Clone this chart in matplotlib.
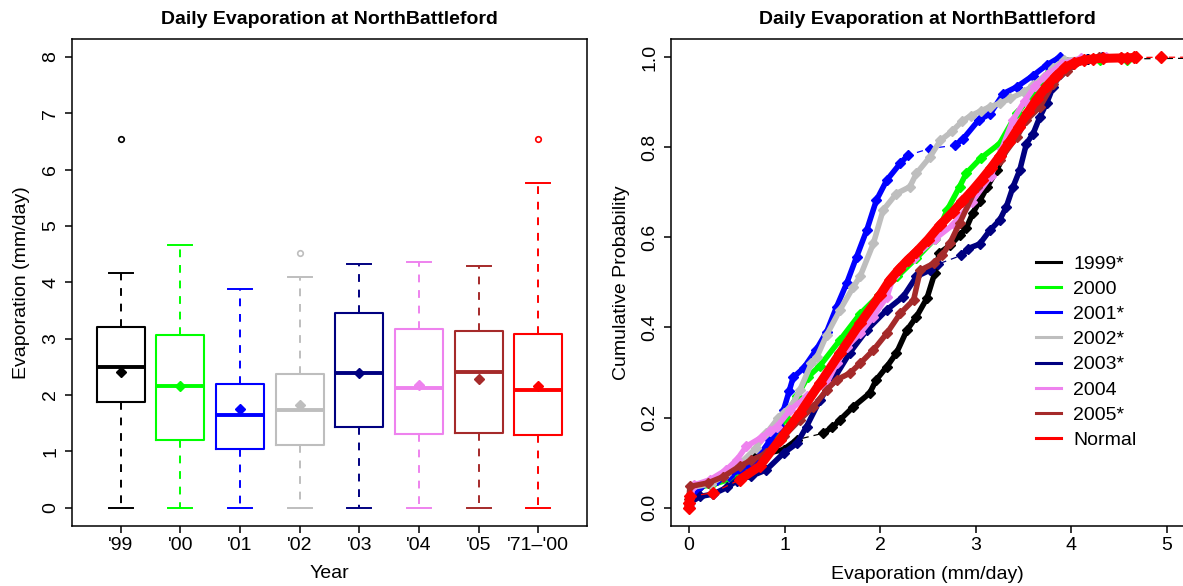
import matplotlib
matplotlib.use("Agg")
import matplotlib.pyplot as plt
from matplotlib.lines import Line2D
import numpy as np

plt.rcParams['font.family'] = ['Liberation Sans', 'DejaVu Sans']

W, H = 1183, 586
TITLE = "Daily Evaporation at NorthBattleford"

# ---- boxplot summary (mm/day) ----
year_labels = ["'99", "'00", "'01", "'02", "'03", "'04", "'05", "'71\u2013'00"]
box_colors = ["#000000", "#00FF00", "#0000FF", "#BEBEBE", "#000080", "#EE82EE", "#A52A2A", "#FF0000"]
whisker_low = [0.0, 0.0, 0.0, 0.0, 0.0, 0.0, 0.0, 0.0]
q1 = [1.88, 1.21, 1.04, 1.12, 1.44, 1.31, 1.32, 1.29]
medians = [2.50, 2.16, 1.65, 1.73, 2.39, 2.12, 2.40, 2.09]
q3 = [3.21, 3.07, 2.19, 2.38, 3.46, 3.17, 3.13, 3.09]
whisker_high = [4.17, 4.67, 3.88, 4.10, 4.32, 4.36, 4.29, 5.77]
means = [2.41, 2.16, 1.76, 1.82, 2.39, 2.17, 2.28, 2.16]
outliers = [[6.54], [], [], [4.52], [], [], [], [6.54]]

# ---- cumulative distributions: evaporation (mm/day) and probability ----
series_names = ["1999*", "2000", "2001*", "2002*", "2003*", "2004", "2005*", "Normal"]

x_1999 = [0.0, 0.10, 0.25, 0.40, 0.55, 0.67, 0.80, 0.99, 1.13, 1.40, 1.50, 1.58, 1.72, 1.89, 1.96,
          2.07, 2.17, 2.28, 2.38, 2.49, 2.57, 2.62, 2.73, 2.83, 2.90, 2.97, 3.04, 3.12, 3.22, 3.40,
          3.60, 3.80, 3.95, 4.17, 6.54]
p_1999 = [0.01, 0.045, 0.06, 0.08, 0.10, 0.114, 0.12, 0.129, 0.151, 0.165, 0.178, 0.195, 0.224, 0.254, 0.284,
          0.313, 0.343, 0.394, 0.424, 0.465, 0.52, 0.565, 0.582, 0.604, 0.62, 0.654, 0.68, 0.712, 0.749, 0.83,
          0.90, 0.96, 0.99, 0.995, 1.0]

x_2000 = [0.0, 0.035, 0.23, 0.45, 0.62, 0.75, 0.89, 1.01, 1.13, 1.24, 1.37, 1.58, 1.79, 1.99, 2.18,
          2.38, 2.57, 2.70, 2.83, 2.90, 3.05, 3.25, 3.43, 3.60, 3.78, 4.00, 4.30, 4.58, 4.67]
p_2000 = [0.01, 0.045, 0.05, 0.065, 0.09, 0.115, 0.148, 0.20, 0.248, 0.289, 0.315, 0.372, 0.43, 0.472, 0.513,
          0.554, 0.596, 0.66, 0.712, 0.742, 0.775, 0.808, 0.875, 0.92, 0.97, 0.985, 0.993, 0.993, 1.0]

x_2001 = [0.0, 0.115, 0.29, 0.42, 0.53, 0.62, 0.70, 0.85, 0.95, 0.99, 1.05, 1.09, 1.20, 1.33, 1.44,
          1.545, 1.65, 1.754, 1.86, 1.96, 2.07, 2.21, 2.29, 2.52, 2.78, 2.87, 3.03, 3.15, 3.29, 3.43,
          3.60, 3.74, 3.88]
p_2001 = [0.005, 0.047, 0.062, 0.07, 0.084, 0.095, 0.105, 0.15, 0.18, 0.217, 0.26, 0.289, 0.31, 0.35, 0.39,
          0.446, 0.498, 0.557, 0.616, 0.682, 0.727, 0.764, 0.782, 0.797, 0.804, 0.819, 0.86, 0.874, 0.919, 0.934,
          0.959, 0.982, 1.0]

x_2002 = [0.0, 0.035, 0.23, 0.39, 0.54, 0.70, 0.81, 0.93, 0.99, 1.09, 1.16, 1.28, 1.34, 1.44, 1.58,
          1.72, 1.79, 1.93, 2.03, 2.17, 2.31, 2.38, 2.52, 2.63, 2.75, 2.86, 2.95, 3.05, 3.15, 3.25,
          3.36, 3.50, 3.60, 3.71, 3.81, 3.92, 4.10, 4.52]
p_2002 = [0.005, 0.045, 0.053, 0.074, 0.099, 0.132, 0.165, 0.198, 0.21, 0.231, 0.261, 0.32, 0.335, 0.383, 0.439,
          0.49, 0.513, 0.587, 0.66, 0.697, 0.712, 0.742, 0.778, 0.815, 0.835, 0.858, 0.87, 0.88, 0.89, 0.897,
          0.908, 0.922, 0.937, 0.956, 0.975, 0.993, 0.995, 1.0]

x_2003 = [0.0, 0.12, 0.25, 0.40, 0.50, 0.65, 0.81, 0.99, 1.13, 1.23, 1.37, 1.51, 1.68, 1.86, 2.07,
          2.24, 2.38, 2.52, 2.60, 2.85, 2.92, 3.04, 3.15, 3.25, 3.32, 3.39, 3.46, 3.53, 3.60, 3.67,
          3.74, 3.81, 3.88, 4.02, 4.16, 4.32]
p_2003 = [0.01, 0.025, 0.03, 0.045, 0.06, 0.07, 0.084, 0.121, 0.143, 0.18, 0.239, 0.284, 0.343, 0.394, 0.439,
          0.468, 0.513, 0.527, 0.54, 0.56, 0.575, 0.585, 0.616, 0.638, 0.668, 0.712, 0.749, 0.808, 0.83, 0.867,
          0.897, 0.934, 0.963, 0.985, 0.995, 1.0]

x_2004 = [0.0, 0.05, 0.22, 0.39, 0.50, 0.60, 0.75, 0.85, 0.92, 1.06, 1.23, 1.44, 1.545, 1.65, 1.79,
          1.93, 2.07, 2.14, 2.35, 2.57, 2.77, 2.96, 3.16, 3.27, 3.39, 3.51, 3.62, 3.74, 3.90, 4.10, 4.36]
p_2004 = [0.01, 0.05, 0.062, 0.084, 0.106, 0.136, 0.155, 0.17, 0.18, 0.217, 0.247, 0.276, 0.32, 0.357, 0.387,
          0.424, 0.468, 0.513, 0.555, 0.596, 0.629, 0.679, 0.737, 0.795, 0.861, 0.902, 0.935, 0.96, 0.985, 0.997, 1.0]

x_2005 = [0.0, 0.01, 0.20, 0.36, 0.53, 0.65, 0.81, 0.99, 1.16, 1.30, 1.44, 1.545, 1.68, 1.79, 1.93,
          2.07, 2.21, 2.35, 2.42, 2.56, 2.65, 2.73, 2.83, 3.01, 3.13, 3.25, 3.43, 3.53, 3.67, 3.81,
          3.95, 4.13, 4.29]
p_2005 = [0.02, 0.047, 0.055, 0.069, 0.092, 0.105, 0.121, 0.158, 0.195, 0.224, 0.261, 0.284, 0.298, 0.32, 0.35,
          0.387, 0.431, 0.461, 0.527, 0.542, 0.56, 0.587, 0.631, 0.712, 0.745, 0.771, 0.823, 0.86, 0.889, 0.941,
          0.97, 0.993, 1.0]

x_normal = [0.0, 0.0, 0.01, 0.25, 0.53, 0.74, 0.95, 1.16, 1.37, 1.58, 1.79, 2.00, 2.10, 2.20, 2.29,
            2.38, 2.50, 2.63, 2.76, 2.86, 2.96, 3.06, 3.155, 3.25, 3.35, 3.45, 3.545, 3.64, 3.74, 3.84,
            3.935, 4.03, 4.13, 4.23, 4.33, 4.52, 4.58, 4.65, 4.68, 4.94, 6.54]
p_normal = [0.0, 0.01, 0.025, 0.033, 0.062, 0.092, 0.151, 0.21, 0.276, 0.343, 0.409, 0.472, 0.505, 0.53, 0.55,
            0.568, 0.595, 0.628, 0.656, 0.68, 0.703, 0.728, 0.753, 0.78, 0.811, 0.845, 0.877, 0.907, 0.935, 0.958,
            0.977, 0.987, 0.993, 0.996, 0.997, 0.998, 0.998, 0.999, 0.999, 0.9995, 1.0]

ecdf_x = [x_1999, x_2000, x_2001, x_2002, x_2003, x_2004, x_2005, x_normal]
ecdf_p = [p_1999, p_2000, p_2001, p_2002, p_2003, p_2004, p_2005, p_normal]

FS = 14
TICK_LEN = 4.8
TICK_W = 1.1
SPINE_W = 1.1

fig = plt.figure(figsize=(W / 100, H / 100), dpi=100)
ax1 = fig.add_axes([71.7 / W, (H - 525.7) / H, (587.3 - 71.7) / W, (525.7 - 39) / H])
ax2 = fig.add_axes([670.7 / W, (H - 525.7) / H, (1184 - 670.7) / W, (525.7 - 39) / H])


def style_axes(ax):
    for s in ax.spines.values():
        s.set_linewidth(SPINE_W)
        s.set_color("black")
    ax.tick_params(axis="both", length=TICK_LEN, width=TICK_W, labelsize=FS, color="black")
    ax.tick_params(axis="x", pad=3.2)
    ax.tick_params(axis="y", pad=4.2, labelrotation=90)
    for lbl in ax.get_yticklabels():
        lbl.set_va("center")


# ---------- left: boxplots ----------
positions = np.arange(1, len(year_labels) + 1)
for i in range(len(year_labels)):
    c = box_colors[i]
    st = dict(whislo=whisker_low[i], q1=q1[i], med=medians[i], q3=q3[i],
              whishi=whisker_high[i], fliers=outliers[i], label=year_labels[i])
    ax1.bxp([st], positions=[positions[i]], widths=0.8, showfliers=True,
            boxprops=dict(color=c, linewidth=1.5),
            medianprops=dict(color=c, linewidth=2.8),
            whiskerprops=dict(color=c, linewidth=1.4, linestyle=(0, (4, 4))),
            capprops=dict(color=c, linewidth=1.4),
            capwidths=0.4,
            flierprops=dict(marker="o", markerfacecolor="none", markeredgecolor=c,
                            markersize=4, markeredgewidth=1.2))
    ax1.plot([positions[i]], [means[i]], marker="D", color=c, markersize=5, linestyle="none")

ax1.set_xlim(0.18, 8.82)
ax1.set_ylim(-0.32, 8.32)
ax1.set_xticks(positions)
ax1.set_xticklabels(year_labels)
ax1.set_yticks(range(0, 9))
style_axes(ax1)
ax1.set_xlabel("Year", fontsize=FS, labelpad=8.0)
ax1.set_ylabel("Evaporation (mm/day)", fontsize=FS)
ax1.yaxis.set_label_coords(-0.08, 0.5)
ax1.text(0.5, 1.03, TITLE, transform=ax1.transAxes, ha="center", va="baseline",
         fontsize=FS, fontweight="bold")

# ---------- right: cumulative distributions ----------
line_w = [4.0] * 7 + [6.5]
gap = 0.22
for i in range(len(series_names)):
    xs = np.asarray(ecdf_x[i])
    ps = np.asarray(ecdf_p[i])
    c = box_colors[i]
    z = 2 + i * 0.1
    ax2.plot(xs, ps, color=c, linewidth=0.9, linestyle=(0, (5, 4)), zorder=z)
    breaks = np.where(np.diff(xs) > gap)[0] + 1
    for seg_x, seg_p in zip(np.split(xs, breaks), np.split(ps, breaks)):
        if len(seg_x) > 1:
            ax2.plot(seg_x, seg_p, color=c, linewidth=line_w[i], solid_capstyle="round",
                     solid_joinstyle="round", zorder=z)
    ax2.plot(xs, ps, color=c, marker="D", markersize=5 if i < 7 else 6.5,
             linestyle="none", zorder=z)

ax2.set_xlim(-0.191, 5.178)
ax2.set_ylim(-0.04, 1.04)
ax2.set_xticks(range(0, 6))
ax2.set_yticks([0.0, 0.2, 0.4, 0.6, 0.8, 1.0])
ax2.set_yticklabels(["0.0", "0.2", "0.4", "0.6", "0.8", "1.0"])
style_axes(ax2)
ax2.set_xlabel("Evaporation (mm/day)", fontsize=FS, labelpad=8.5)
ax2.set_ylabel("Cumulative Probability", fontsize=FS)
ax2.yaxis.set_label_coords(-0.079, 0.5)
ax2.text(0.5, 1.03, TITLE, transform=ax2.transAxes,
         ha="center", va="baseline", fontsize=FS, fontweight="bold")

handles = [Line2D([0], [0], color=c, linewidth=2.2) for c in box_colors]
ax2.legend(handles, series_names, loc="upper left", fontsize=FS,
           bbox_to_anchor=(1036 / W, (H - 255) / H), bbox_transform=fig.transFigure,
           frameon=False, borderpad=0, borderaxespad=0, handlelength=1.29,
           handletextpad=0.62, labelspacing=0.39)

fig.savefig("out.png", dpi=100)
